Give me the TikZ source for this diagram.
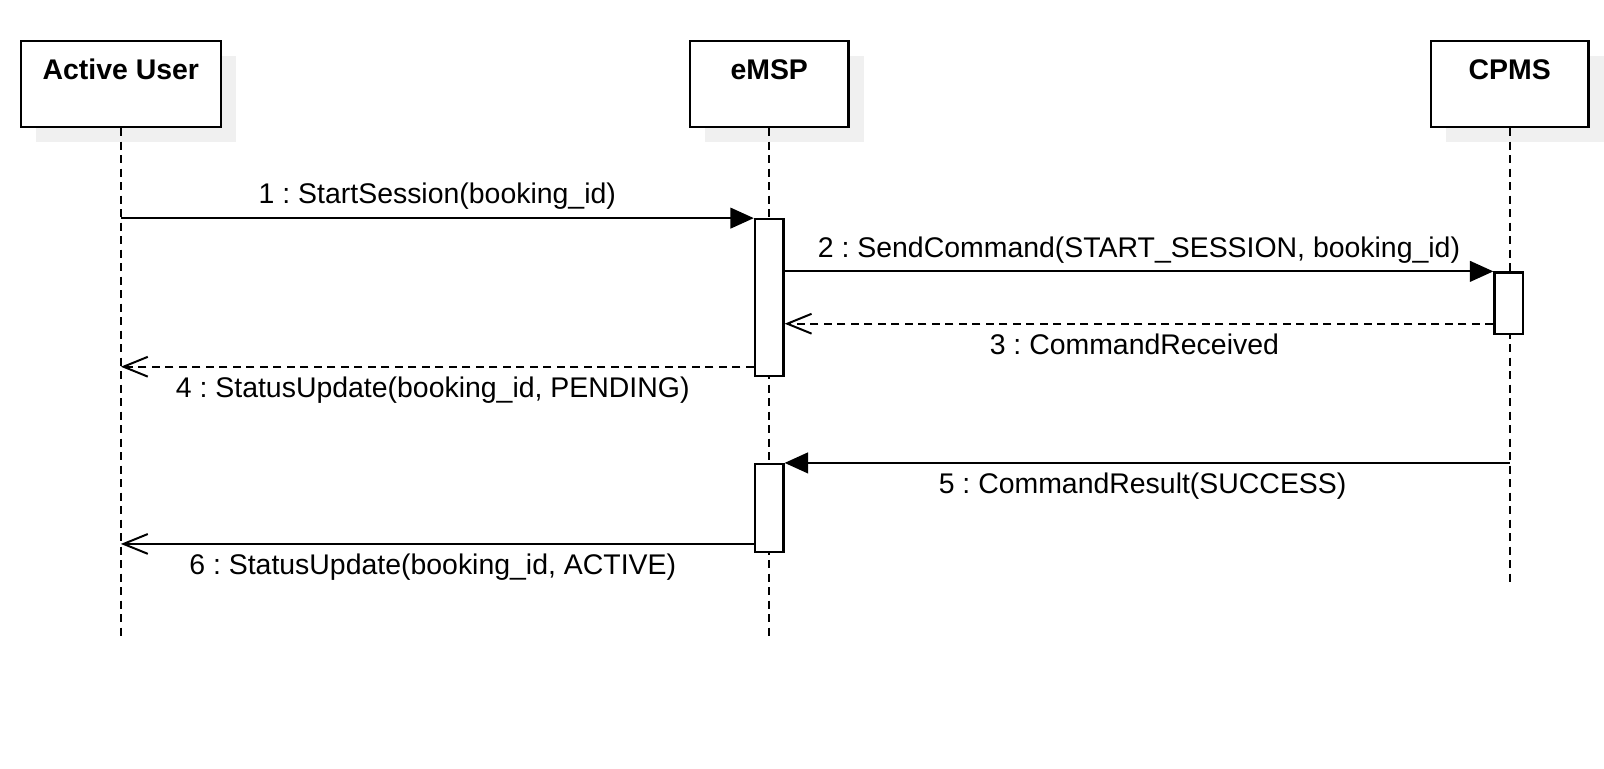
\documentclass[tikz,border=0pt]{standalone}
\usepackage{fontspec}
\setmainfont{Liberation Sans}
\usetikzlibrary{arrows.meta,shadows}
\definecolor{shadowgray}{RGB}{240,240,240}

\begin{document}
\begin{tikzpicture}[x=0.02cm,y=-0.02cm,
	font=\fontsize{15.8pt}{19pt}\selectfont\frenchspacing,
	actor/.style={draw,line width=1.3pt,fill=white,inner xsep=0pt,inner ysep=0pt,
		text height=0.76cm,text depth=0.92cm,
		font=\fontsize{15.8pt}{19pt}\selectfont\bfseries,
		general shadow={fill=shadowgray,shadow xshift=0.3cm,shadow yshift=-0.3cm}},
	act/.style={draw,line width=1.2pt,fill=white,inner sep=0pt,minimum width=0.56cm},
	life/.style={line width=1.1pt,dash pattern=on 4.5pt off 3pt},
	msg/.style={line width=1.1pt,-{Triangle[length=13pt,width=11.5pt]}},
	reply/.style={line width=1.1pt,dash pattern=on 4.5pt off 3pt,-{Straight Barb[length=13.5pt,width=11pt]}},
	back/.style={line width=1.1pt,-{Straight Barb[length=13.5pt,width=11pt]}},
	lblup/.style={midway,anchor=base,yshift=0.28cm,inner sep=0pt},
	lbldown/.style={midway,anchor=base,yshift=-0.6cm,xshift=-0.09cm,inner sep=0pt}]
\useasboundingbox (0,0) rectangle (1566,750);

% participants
\node[actor,minimum width=3.9cm] (user) at (118,82) {Active User};
\node[actor,minimum width=3.1cm] (emsp) at (751,82) {eMSP};
\node[actor,minimum width=3.08cm] (cpms) at (1474,82) {CPMS};

% lifelines
\coordinate (userend) at (user.south |- 0,622);
\coordinate (emspend) at (emsp.south |- 0,622);
\coordinate (cpmsend) at (cpms.south |- 0,570);
\draw[life] (user.south) -- (userend);
\draw[life] (emsp.south) -- (emspend);
\draw[life] (cpms.south) -- (cpmsend);

% activations
\node[act,minimum height=3.06cm] (act1) at (751,290.5) {};
\node[act,minimum height=1.72cm] (act2) at (751,496) {};
\node[act,minimum height=1.2cm] (act3) at (1473,296) {};

% messages
\draw[msg] (user |- act1.north) -- (act1.north west)
	node[lblup] (l1) {1 : StartSession(booking\_id)};
\draw[msg] (act1.east |- act3.north) -- (act3.north west)
	node[lblup] (l2) {2 : SendCommand(START\_SESSION, booking\_id)};
\path ([yshift=0.22cm]act3.south west) coordinate (r3);
\draw[reply] (r3) -- (act1.east |- r3)
	node[lbldown] (l3) {3 : CommandReceived};
\path ([yshift=0.2cm]act1.south west) coordinate (r4);
\draw[reply] (r4) -- (user |- r4)
	node[lbldown] (l4) {4 : StatusUpdate(booking\_id, PENDING)};
\draw[msg] (cpms |- act2.north) -- (act2.north east)
	node[lbldown] (l5) {5 : CommandResult(SUCCESS)};
\path ([yshift=0.18cm]act2.south west) coordinate (r6);
\draw[back] (r6) -- (user |- r6)
	node[lbldown] (l6) {6 : StatusUpdate(booking\_id, ACTIVE)};
\end{tikzpicture}
\end{document}
